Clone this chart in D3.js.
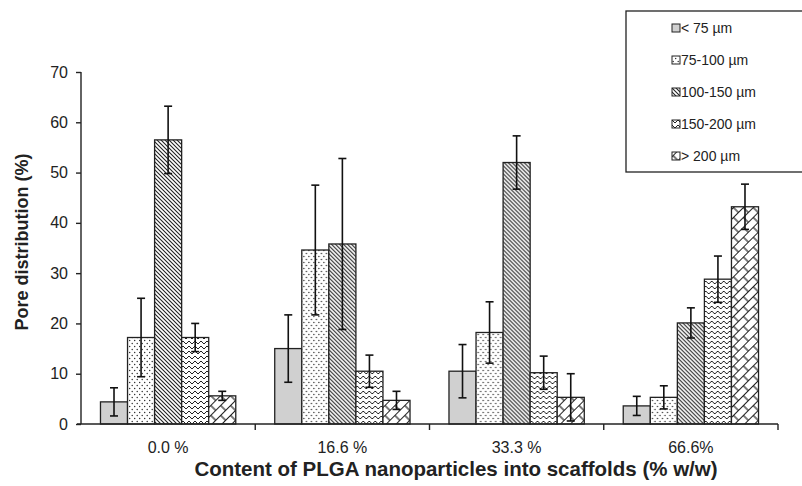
<!DOCTYPE html>
<html>
<head>
<meta charset="utf-8">
<script src="https://cdn.jsdelivr.net/npm/d3@7"></script>
<style>
  body { margin: 0; background: #fff; }
  text { font-family: "Liberation Sans", Arial, sans-serif; fill: #222; }
</style>
</head>
<body>
<script>
// data
var groups = ["0.0 %", "16.6 %", "33.3 %", "66.6%"];
var sizes = ["< 75 µm", "75-100 µm", "100-150 µm", "150-200 µm", "> 200 µm"];
var means = [
  [4.4, 17.2, 56.5, 17.2, 5.6],
  [15.0, 34.6, 35.8, 10.5, 4.7],
  [10.5, 18.2, 52.0, 10.2, 5.3],
  [3.6, 5.3, 20.1, 28.8, 43.2]
];
var errs = [
  [2.8, 7.8, 6.7, 2.8, 0.9],
  [6.7, 12.9, 17.0, 3.2, 1.8],
  [5.3, 6.1, 5.3, 3.3, 4.7],
  [1.9, 2.3, 3.0, 4.6, 4.5]
];
var yTicks = [0, 10, 20, 30, 40, 50, 60, 70];
var fills = ["#d0d0d0", "url(#dots)", "url(#diag)", "url(#wave)", "url(#brick)"];

var W = 802, H = 486;
var margin = {left: 81, right: 24, top: 72, bottom: 62};

var svg = d3.select("body").append("svg")
    .attr("width", W).attr("height", H);

// patterns
var defs = svg.append("defs");
var p;
p = defs.append("pattern").attr("id", "dots").attr("patternUnits", "userSpaceOnUse")
    .attr("width", 5).attr("height", 6);
p.append("rect").attr("width", 5).attr("height", 6).attr("fill", "#fff");
p.append("circle").attr("cx", 1.2).attr("cy", 1.5).attr("r", 0.7).attr("fill", "#222");
p.append("circle").attr("cx", 3.7).attr("cy", 4.5).attr("r", 0.7).attr("fill", "#222");

p = defs.append("pattern").attr("id", "diag").attr("patternUnits", "userSpaceOnUse")
    .attr("width", 4).attr("height", 4);
p.append("rect").attr("width", 4).attr("height", 4).attr("fill", "#fff");
p.append("path").attr("d", "M-1,-1L5,5M-1,3L1,5M3,-1L5,1")
    .attr("stroke", "#222").attr("stroke-width", 1.1);

p = defs.append("pattern").attr("id", "wave").attr("patternUnits", "userSpaceOnUse")
    .attr("width", 6).attr("height", 5);
p.append("rect").attr("width", 6).attr("height", 5).attr("fill", "#fff");
p.append("path").attr("d", "M0,1L3,4L6,1").attr("fill", "none")
    .attr("stroke", "#222").attr("stroke-width", 1);

p = defs.append("pattern").attr("id", "brick").attr("patternUnits", "userSpaceOnUse")
    .attr("width", 14).attr("height", 14).attr("patternTransform", "rotate(-45)");
p.append("rect").attr("width", 14).attr("height", 14).attr("fill", "#fff");
p.append("path").attr("d", "M0,0.5H14M0,7.5H14M1,0.5V7.5M8,7.5V14.5")
    .attr("stroke", "#222").attr("stroke-width", 1.2).attr("fill", "none");

var g = svg.append("g");

var x0 = d3.scaleBand().domain(groups).range([margin.left, W - margin.right]).padding(0);
var x1 = d3.scaleBand().domain(d3.range(sizes.length)).range([0, x0.bandwidth()])
    .paddingInner(0).paddingOuter(0.72);
var y = d3.scaleLinear().domain([0, 70]).range([H - margin.bottom, margin.top]);

// bars
var grp = g.selectAll(".grp").data(groups).enter().append("g")
    .attr("transform", function(d){ return "translate(" + x0(d) + ",0)"; });

grp.selectAll("rect").data(function(d, i){
    return means[i].map(function(v, j){ return {v: v, e: errs[i][j], j: j}; });
  }).enter().append("rect")
    .attr("x", function(d){ return x1(d.j); })
    .attr("y", function(d){ return y(d.v); })
    .attr("width", x1.bandwidth())
    .attr("height", function(d){ return y(0) - y(d.v); })
    .attr("fill", function(d){ return fills[d.j]; })
    .attr("stroke", "#222").attr("stroke-width", 1.3);

// error bars
var eb = grp.selectAll(".eb").data(function(d, i){
    return means[i].map(function(v, j){ return {v: v, e: errs[i][j], j: j}; });
  }).enter().append("g").attr("class", "eb")
    .attr("stroke", "#111").attr("stroke-width", 1.6);
eb.append("line")
    .attr("x1", function(d){ return x1(d.j) + x1.bandwidth() / 2; })
    .attr("x2", function(d){ return x1(d.j) + x1.bandwidth() / 2; })
    .attr("y1", function(d){ return y(d.v + d.e); })
    .attr("y2", function(d){ return y(d.v - d.e); });
[1, -1].forEach(function(s){
  eb.append("line")
    .attr("x1", function(d){ return x1(d.j) + x1.bandwidth() / 2 - 4; })
    .attr("x2", function(d){ return x1(d.j) + x1.bandwidth() / 2 + 4; })
    .attr("y1", function(d){ return y(d.v + s * d.e); })
    .attr("y2", function(d){ return y(d.v + s * d.e); });
});

// axes
var yAxis = d3.axisLeft(y).tickValues(yTicks).tickSize(5).tickPadding(8);
var ya = g.append("g").attr("transform", "translate(" + margin.left + ",0)").call(yAxis);
ya.select(".domain").attr("d", "M0," + y(70) + "V" + y(0)).attr("stroke", "#222").attr("stroke-width", 1.4);
ya.selectAll(".tick line").attr("stroke", "#222").attr("stroke-width", 1.4);
ya.selectAll("text").style("font-size", "16px").attr("fill", "#222");

var xa = g.append("g").attr("transform", "translate(0," + y(0) + ")");
xa.append("line").attr("x1", margin.left - 4).attr("x2", W - margin.right)
    .attr("stroke", "#222").attr("stroke-width", 1.4);
xa.selectAll(".sep").data(groups).enter().append("line")
    .attr("x1", function(d){ return x0(d) + x0.bandwidth(); })
    .attr("x2", function(d){ return x0(d) + x0.bandwidth(); })
    .attr("y1", 0).attr("y2", 6)
    .attr("stroke", "#222").attr("stroke-width", 1.4);
xa.selectAll(".lbl").data(groups).enter().append("text")
    .attr("x", function(d){ return x0(d) + x0.bandwidth() / 2; })
    .attr("y", 29).attr("text-anchor", "middle")
    .style("font-size", "16px").text(function(d){ return d; });

// titles
svg.append("text").attr("x", 456).attr("y", 476)
    .attr("text-anchor", "middle").style("font-size", "20.5px").style("font-weight", "bold")
    .text("Content of PLGA nanoparticles into scaffolds (% w/w)");
svg.append("text").attr("transform", "translate(28," + (y(35) - 6) + ") rotate(-90)")
    .attr("text-anchor", "middle").style("font-size", "18px").style("font-weight", "bold")
    .text("Pore distribution (%)");

// legend
var lg = svg.append("g").attr("transform", "translate(626,11)");
lg.append("rect").attr("width", 190).attr("height", 161)
    .attr("fill", "#fff").attr("stroke", "#222").attr("stroke-width", 1.3);
var li = lg.selectAll(".li").data(sizes).enter().append("g")
    .attr("transform", function(d, i){ return "translate(46," + (17 + i * 32) + ")"; });
li.append("rect").attr("x", 0).attr("y", -4).attr("width", 8).attr("height", 8)
    .attr("fill", function(d, i){ return fills[i]; })
    .attr("stroke", "#222").attr("stroke-width", 1);
li.append("text").attr("x", 9).attr("y", 5).style("font-size", "14px")
    .text(function(d){ return d; });
</script>
</body>
</html>
